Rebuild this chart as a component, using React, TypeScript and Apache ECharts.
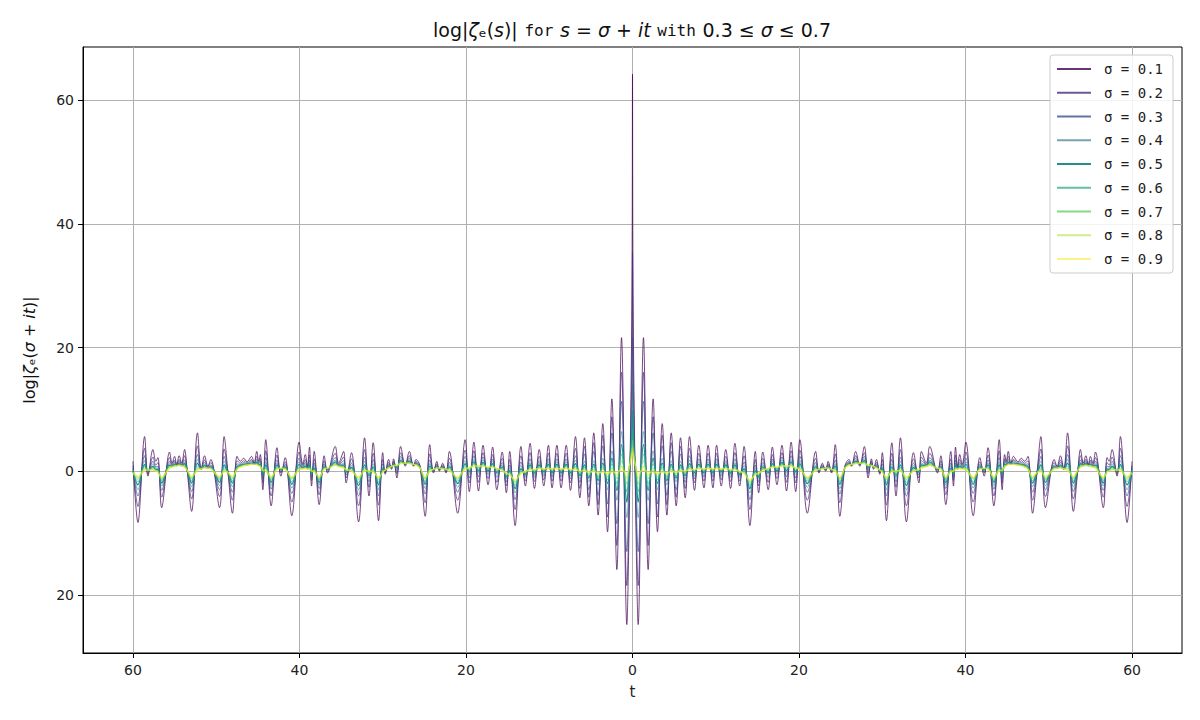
import React, { useEffect, useRef } from "react";
import * as echarts from "echarts";

// t values for the left half (the curves are symmetric about t = 0)
const T = [
  -60.0, -59.4, -58.6, -58.2, -57.6, -57.25, -57.0, -56.55, -55.6, -55.3,
  -55.0, -54.75, -54.45, -54.15, -53.8, -53.5, -52.95, -52.25, -51.8, -51.4,
  -51.0, -50.65, -49.6, -49.05, -48.6, -48.05, -47.5, -47.1, -46.7, -46.3,
  -45.75, -45.45, -45.13, -44.9, -44.7, -44.4, -44.05, -43.4, -42.7, -42.24,
  -41.72, -40.92, -40.04, -39.6, -39.3, -39.05, -38.8, -38.55, -38.23, -37.63,
  -37.03, -36.63, -35.7, -35.3, -34.7, -34.4, -33.75, -32.9, -32.18, -31.65,
  -31.15, -30.5, -30.0, -29.7, -29.3, -28.95, -28.7, -28.3, -27.85, -27.3,
  -26.8, -26.3, -26.0, -25.75, -25.5, -24.9, -24.35, -23.9, -23.5, -23.2,
  -22.8, -22.4, -22.0, -21.0, -20.1, -19.6, -19.05, -18.5, -17.95, -17.35,
  -16.8, -16.3, -15.65, -15.15, -14.75, -14.1, -13.4, -12.87, -12.3, -11.78,
  -11.2, -10.66, -10.1, -9.66, -9.08, -8.58, -7.96, -7.45, -6.85, -6.33,
  -5.77, -5.25, -4.65, -4.13, -3.57, -3.0, -2.48, -1.88, -1.32, -0.68,
  -0.4, -0.12, -0.04, 0,
];

const S1 = [
  1.6, -8.3, 5.6, -0.8, 3.5, 1.6, 2.2, -5.9, 3.1, 1.3,
  2.4, 1.1, 2.5, 1.3, 3.5, 0.3, -6.5, 6.2, 0.3, 2.5,
  0.8, 1.9, -5.9, 5.6, 0.0, -6.8, 2.4, 1.6, 2.1, 1.5,
  2.4, 1.3, 3.2, 1.6, 2.7, -3.0, 5.1, -5.6, 3.8, -0.8,
  2.2, -7.2, 4.7, 1.1, 2.7, 0.8, 3.9, -2.4, 3.2, -5.4,
  2.5, -0.3, 4.0, 1.3, 3.2, -1.9, 3.0, -8.2, 5.4, -4.0,
  4.6, -8.0, 3.0, -0.5, 1.9, 0.3, 2.0, -1.1, 4.0, 0.8,
  3.2, 0.8, 1.9, 1.6, 0.8, -7.3, 4.3, -0.3, 1.6, 0.0,
  1.3, -0.3, 3.2, -6.8, 5.1, -3.3, 4.7, -3.2, 4.2, -2.2,
  3.9, -3.0, 3.1, -3.5, 3.2, -8.8, 4.0, -2.4, 4.5, -2.8,
  3.5, -2.4, 4.2, -2.7, 4.2, -2.7, 4.2, -3.1, 5.6, -4.3,
  5.4, -5.6, 6.2, -7.1, 7.7, -9.8, 11.7, -15.9, 21.6, -24.8,
  -8, 20, 38, 64.2,
];
const S2 = [
  0.9, -5.7, 3.7, -0.5, 2.3, 1.0, 1.4, -4.2, 2.2, 1.1,
  1.8, 1.0, 1.9, 1.1, 2.5, 0.3, -4.5, 4.1, 0.3, 1.8,
  0.7, 1.4, -4.1, 3.6, -0.1, -4.7, 1.7, 1.3, 1.7, 1.3,
  1.9, 1.2, 2.4, 1.4, 2.0, -1.9, 3.3, -4.0, 2.6, -0.3,
  1.5, -5.0, 3.1, 0.9, 1.9, 0.6, 2.6, -1.5, 2.0, -3.8,
  1.7, 0.0, 2.9, 1.1, 2.3, -1.1, 2.0, -5.6, 3.5, -2.6,
  2.9, -5.5, 1.9, -0.3, 1.4, 0.5, 1.6, -0.4, 3.0, 1.0,
  2.5, 0.9, 1.6, 1.3, 0.7, -5.1, 2.8, -0.1, 1.2, 0.2,
  1.0, -0.1, 2.1, -4.7, 3.4, -1.9, 3.3, -1.8, 3.0, -1.2,
  2.7, -1.8, 2.1, -2.4, 1.9, -6.2, 2.5, -1.6, 3.0, -1.7,
  2.4, -1.4, 2.9, -1.6, 2.9, -1.6, 2.9, -1.9, 3.7, -2.8,
  4.0, -4.2, 4.6, -5.4, 5.8, -7.4, 8.8, -12.0, 16.0, -18.5,
  -5, 13, 26, 35.4,
];
const S3 = [
  0.5, -4.0, 2.5, -0.2, 1.6, 0.7, 0.8, -3.1, 1.6, 1.0,
  1.5, 1.0, 1.6, 1.0, 1.8, 0.2, -3.3, 2.7, 0.4, 1.4,
  0.6, 1.0, -3.0, 2.4, -0.1, -3.4, 1.2, 1.1, 1.4, 1.2,
  1.7, 1.2, 1.9, 1.2, 1.6, -1.2, 2.2, -2.9, 1.8, -0.1,
  1.1, -3.6, 2.1, 0.7, 1.4, 0.5, 1.8, -1.0, 1.3, -2.8,
  1.2, 0.2, 2.2, 1.0, 1.7, -0.6, 1.3, -4.0, 2.3, -1.7,
  1.9, -4.0, 1.2, -0.1, 1.1, 0.6, 1.4, 0.1, 2.4, 1.1,
  2.1, 1.0, 1.4, 1.1, 0.6, -3.7, 1.8, 0.0, 1.0, 0.3,
  0.8, 0.0, 1.4, -3.4, 2.4, -1.1, 2.5, -0.9, 2.3, -0.5,
  2.0, -1.0, 1.4, -1.7, 1.0, -4.6, 1.5, -1.0, 2.0, -1.0,
  1.7, -0.8, 2.0, -0.9, 2.0, -0.9, 2.0, -1.2, 2.5, -1.8,
  2.8, -3.0, 3.2, -3.9, 4.1, -5.3, 6.2, -8.5, 11.3, -13.0,
  -2.8, 9, 16.5, 21.7,
];
const S4 = [
  0.3, -3.0, 1.7, -0.1, 1.2, 0.5, 0.5, -2.4, 1.3, 0.9,
  1.3, 0.9, 1.4, 1.0, 1.4, 0.2, -2.5, 1.9, 0.4, 1.1,
  0.6, 0.8, -2.3, 1.6, -0.1, -2.5, 0.9, 1.0, 1.2, 1.1,
  1.5, 1.2, 1.6, 1.1, 1.3, -0.7, 1.5, -2.3, 1.3, 0.1,
  0.9, -2.7, 1.5, 0.6, 1.1, 0.5, 1.3, -0.6, 0.9, -2.2,
  0.9, 0.3, 1.8, 0.9, 1.3, -0.3, 0.9, -3.0, 1.6, -1.1,
  1.2, -3.0, 0.7, 0.0, 0.9, 0.7, 1.2, 0.4, 2.0, 1.2,
  1.8, 1.0, 1.3, 1.0, 0.6, -2.8, 1.2, 0.1, 0.8, 0.4,
  0.7, 0.1, 1.0, -2.6, 1.7, -0.5, 1.9, -0.3, 1.8, -0.1,
  1.6, -0.5, 1.0, -1.2, 0.5, -3.5, 0.9, -0.7, 1.4, -0.6,
  1.3, -0.4, 1.5, -0.5, 1.5, -0.5, 1.5, -0.7, 1.8, -1.2,
  1.6, -1.7, 1.7, -2.2, 2.1, -3.0, 3.3, -4.7, 6.4, -7.5,
  -1.3, 6, 11, 14.0,
];
const S5 = [
  0.1, -2.2, 1.1, 0.0, 0.8, 0.3, 0.3, -1.9, 1.0, 0.8,
  1.1, 0.9, 1.2, 0.9, 1.2, 0.2, -1.9, 1.3, 0.4, 0.9,
  0.6, 0.7, -1.8, 1.0, -0.2, -1.9, 0.7, 0.9, 1.1, 1.1,
  1.3, 1.1, 1.4, 1.0, 1.1, -0.4, 1.0, -1.8, 1.0, 0.3,
  0.7, -2.1, 1.1, 0.5, 0.8, 0.4, 1.0, -0.4, 0.5, -1.8,
  0.7, 0.3, 1.5, 0.9, 1.0, -0.1, 0.6, -2.3, 1.0, -0.7,
  0.7, -2.2, 0.4, 0.1, 0.8, 0.7, 1.1, 0.6, 1.7, 1.2,
  1.6, 1.0, 1.2, 1.0, 0.6, -2.1, 0.8, 0.2, 0.7, 0.4,
  0.6, 0.2, 0.7, -2.0, 1.2, -0.1, 1.5, 0.1, 1.4, 0.1,
  1.2, -0.2, 0.7, -0.9, 0.1, -2.8, 0.4, -0.5, 1.0, -0.3,
  1.0, -0.1, 1.1, -0.2, 1.1, -0.2, 1.1, -0.3, 1.2, -0.7,
  1.0, -1.1, 1.1, -1.5, 1.3, -2.0, 2.1, -3.1, 4.3, -5.0,
  -0.2, 4.5, 8, 9.8,
];
const S6 = [
  -0.1, -1.7, 0.8, 0.1, 0.6, 0.2, 0.1, -1.5, 0.8, 0.8,
  1.0, 0.9, 1.1, 0.9, 0.9, 0.2, -1.5, 0.8, 0.4, 0.7,
  0.5, 0.6, -1.4, 0.6, -0.2, -1.5, 0.6, 0.8, 1.0, 1.1,
  1.3, 1.1, 1.3, 1.0, 0.9, -0.2, 0.6, -1.5, 0.7, 0.3,
  0.5, -1.7, 0.7, 0.5, 0.7, 0.4, 0.7, -0.2, 0.3, -1.4,
  0.6, 0.4, 1.3, 0.9, 0.8, 0.0, 0.4, -1.8, 0.6, -0.4,
  0.4, -1.8, 0.2, 0.1, 0.7, 0.7, 1.0, 0.7, 1.5, 1.2,
  1.4, 1.1, 1.1, 0.9, 0.5, -1.7, 0.5, 0.2, 0.6, 0.4,
  0.5, 0.2, 0.5, -1.6, 0.9, 0.1, 1.3, 0.4, 1.2, 0.4,
  1.0, 0.1, 0.5, -0.7, -0.1, -2.3, 0.1, -0.3, 0.7, -0.1,
  0.8, 0.1, 0.9, 0.0, 0.9, 0.0, 0.9, -0.1, 0.8, -0.4,
  0.6, -0.8, 0.7, -1.0, 0.7, -1.4, 1.2, -2.0, 2.8, -3.3,
  0.5, 3.8, 5.8, 6.8,
];
const S7 = [
  -0.2, -1.3, 0.5, 0.1, 0.4, 0.1, 0.0, -1.3, 0.7, 0.7,
  0.9, 0.9, 1.0, 0.9, 0.8, 0.2, -1.2, 0.5, 0.4, 0.6,
  0.5, 0.5, -1.2, 0.3, -0.2, -1.2, 0.4, 0.8, 1.0, 1.0,
  1.2, 1.1, 1.2, 1.0, 0.8, 0.0, 0.4, -1.2, 0.5, 0.4,
  0.4, -1.3, 0.5, 0.4, 0.6, 0.4, 0.6, -0.1, 0.1, -1.2,
  0.5, 0.4, 1.1, 0.8, 0.7, 0.1, 0.2, -1.4, 0.4, -0.2,
  0.1, -1.4, 0.0, 0.2, 0.6, 0.8, 1.0, 0.9, 1.4, 1.3,
  1.3, 1.1, 1.1, 0.9, 0.5, -1.3, 0.3, 0.3, 0.6, 0.5,
  0.5, 0.3, 0.3, -1.3, 0.6, 0.3, 1.1, 0.6, 1.0, 0.5,
  0.8, 0.3, 0.3, -0.5, -0.3, -1.9, -0.1, -0.2, 0.5, 0.1,
  0.6, 0.2, 0.7, 0.2, 0.7, 0.2, 0.7, 0.1, 0.6, -0.2,
  0.4, -0.5, 0.3, -0.7, 0.4, -0.9, 0.6, -1.2, 1.7, -2.1,
  0.7, 3.2, 4.5, 5.0,
];
const S8 = [
  -0.2, -1.0, 0.3, 0.2, 0.3, 0.0, -0.1, -1.1, 0.6, 0.7,
  0.8, 0.9, 1.0, 0.9, 0.7, 0.2, -1.0, 0.3, 0.4, 0.6,
  0.5, 0.4, -1.0, 0.1, -0.2, -1.0, 0.4, 0.7, 0.9, 1.0,
  1.1, 1.1, 1.1, 0.9, 0.8, 0.1, 0.2, -1.0, 0.4, 0.5,
  0.4, -1.1, 0.3, 0.4, 0.5, 0.4, 0.4, 0.0, 0.0, -1.0,
  0.4, 0.5, 1.0, 0.8, 0.6, 0.2, 0.1, -1.1, 0.2, 0.0,
  0.0, -1.1, -0.1, 0.2, 0.5, 0.8, 0.9, 0.9, 1.3, 1.3,
  1.3, 1.1, 1.0, 0.8, 0.5, -1.1, 0.1, 0.3, 0.5, 0.5,
  0.4, 0.3, 0.2, -1.1, 0.4, 0.5, 0.9, 0.8, 0.9, 0.6,
  0.7, 0.4, 0.2, -0.4, -0.5, -1.6, -0.3, -0.1, 0.3, 0.2,
  0.5, 0.3, 0.5, 0.3, 0.5, 0.3, 0.5, 0.2, 0.4, 0.0,
  0.2, -0.3, 0.1, -0.4, 0.0, -0.5, 0.2, -0.6, 0.8, -1.1,
  0.7, 2.7, 3.5, 3.8,
];
const S9 = [
  -0.3, -0.8, 0.1, 0.2, 0.2, 0.0, -0.2, -0.9, 0.5, 0.7,
  0.8, 0.9, 0.9, 0.9, 0.6, 0.2, -0.8, 0.1, 0.4, 0.5,
  0.5, 0.4, -0.8, -0.1, -0.2, -0.8, 0.3, 0.7, 0.9, 1.0,
  1.1, 1.1, 1.0, 0.9, 0.7, 0.2, 0.0, -0.9, 0.3, 0.5,
  0.3, -0.9, 0.2, 0.4, 0.4, 0.4, 0.3, 0.1, -0.1, -0.9,
  0.3, 0.5, 0.9, 0.8, 0.5, 0.3, 0.0, -0.9, 0.0, 0.1,
  -0.2, -0.9, -0.2, 0.2, 0.5, 0.8, 0.9, 1.0, 1.2, 1.3,
  1.2, 1.1, 1.0, 0.8, 0.5, -0.9, 0.0, 0.3, 0.5, 0.5,
  0.4, 0.3, 0.1, -0.9, 0.3, 0.6, 0.8, 0.9, 0.8, 0.7,
  0.6, 0.5, 0.1, -0.3, -0.6, -1.4, -0.4, 0.0, 0.2, 0.3,
  0.4, 0.4, 0.4, 0.4, 0.4, 0.4, 0.4, 0.3, 0.2, 0.1,
  0.0, -0.1, -0.1, -0.2, -0.2, -0.2, -0.2, -0.1, 0.2, -0.4,
  0.5, 2.3, 2.9, 3.1,
];

const SIGMAS = ["0.1", "0.2", "0.3", "0.4", "0.5", "0.6", "0.7", "0.8", "0.9"];
const VALUES = [S1, S2, S3, S4, S5, S6, S7, S8, S9];
const X_TICKS = [-60, -40, -20, 0, 20, 40, 60];
const Y_TICKS = [-20, 0, 20, 40, 60];

const COLORS = ["#440154", "#472d7b", "#3b528b", "#2c728e", "#21918c", "#28ae80", "#5ec962", "#addc30", "#fde725"];
const WIDTHS = [0.9, 0.9, 0.9, 0.9, 1.4, 0.9, 0.9, 1.4, 1.4];
const OPACITY = [0.8, 0.8, 0.8, 0.65, 1, 0.75, 0.75, 0.55, 0.55];

function fullCurve(vals: number[]): number[][] {
  const pts: number[][] = [];
  for (let i = 0; i < T.length; i++) pts.push([T[i], vals[i]]);
  for (let i = T.length - 2; i >= 0; i--) pts.push([-T[i], vals[i]]);
  return pts;
}

const FONT = "DejaVu Sans";

export default function App() {
  const ref = useRef<HTMLDivElement>(null);
  useEffect(() => {
    if (!ref.current) return;
    const chart = echarts.init(ref.current, undefined, { renderer: "svg" });
    const names = SIGMAS.map((s) => `σ = ${s}`);
    const mathRich = {
      a: { fontFamily: FONT, fontSize: 19, color: "#111", fill: "#111" },
      i: { fontFamily: FONT, fontSize: 19, fontStyle: "italic", color: "#111", fill: "#111" },
      m: { fontFamily: "DejaVu Sans Mono", fontSize: 16, color: "#111", fill: "#111" },
    };
    const yRich = {
      a: { fontFamily: FONT, fontSize: 16, color: "#111" },
      i: { fontFamily: FONT, fontSize: 16, fontStyle: "italic", color: "#111" },
    };
    chart.setOption({
      animation: false,
      backgroundColor: "#ffffff",
      grid: {
        left: 83,
        right: 18,
        top: 47,
        bottom: 67,
        show: true,
        borderColor: "#000",
        borderWidth: 1,
        backgroundColor: "transparent",
      },
      graphic: [
        {
          type: "text",
          x: 632,
          y: 30,
          z: 100,
          style: {
            text:
              "{a|log|}{i|ζ}{a|ₑ(}{i|s}{a|)|}  {m|for}  {i|s}{a| = }{i|σ}{a| + }{i|it}  {m|with}  {a|0.3 ≤ }{i|σ}{a| ≤ 0.7}",
            align: "center",
            verticalAlign: "middle",
            rich: mathRich,
          },
        },
      ],
      xAxis: {
        type: "value",
        min: -66,
        max: 66,
        name: "t",
        nameLocation: "middle",
        nameGap: 31,
        nameTextStyle: { fontFamily: FONT, fontSize: 15, color: "#222" },
        axisLine: { show: true, onZero: false, lineStyle: { color: "#000", width: 1 } },
        axisTick: { show: true, length: 5, customValues: X_TICKS, lineStyle: { color: "#000" } },
        axisLabel: {
          customValues: X_TICKS,
          formatter: (v: number) => String(Math.abs(v)),
          fontFamily: FONT,
          fontSize: 14,
          color: "#222",
          margin: 10,
        },
        splitLine: { show: true, lineStyle: { color: "#b0b0b0", width: 1 } },
      },
      yAxis: {
        type: "value",
        min: -29.4,
        max: 68.6,
        name: "{a|log|}{i|ζ}{a|ₑ(}{i|σ}{a| + }{i|it}{a|)|}",
        nameLocation: "middle",
        nameGap: 46,
        nameRotate: 90,
        nameTextStyle: { rich: yRich },
        axisLine: { show: true, onZero: false, lineStyle: { color: "#000", width: 1 } },
        axisTick: { show: true, length: 5, customValues: Y_TICKS, lineStyle: { color: "#000" } },
        axisLabel: {
          customValues: Y_TICKS,
          formatter: (v: number) => String(Math.abs(v)),
          fontFamily: FONT,
          fontSize: 14,
          color: "#222",
          margin: 9,
        },
        splitLine: { show: true, lineStyle: { color: "#b0b0b0", width: 1 } },
      },
      legend: {
        orient: "vertical",
        right: 27,
        top: 55,
        itemWidth: 34,
        itemHeight: 14,
        itemGap: 9.75,
        padding: [7, 10, 7, 6],
        backgroundColor: "rgba(255,255,255,0.85)",
        borderColor: "#cccccc",
        borderWidth: 1,
        borderRadius: 3,
        itemStyle: { opacity: 0, borderWidth: 0 },
        textStyle: { fontFamily: "DejaVu Sans Mono", fontSize: 14, color: "#222", padding: [0, 0, 0, 8] },
        data: names,
      },
      series: VALUES.map((vals, k) => ({
        type: "line",
        name: names[k],
        data: fullCurve(vals),
        symbol: "none",
        smooth: 0.35,
        silent: true,
        lineStyle: { color: COLORS[k], width: WIDTHS[k], opacity: OPACITY[k] },
        itemStyle: { color: COLORS[k], opacity: OPACITY[k] },
        emphasis: { disabled: true },
      })),
    });
    return () => chart.dispose();
  }, []);
  return (
    <div
      ref={ref}
      style={{ position: "absolute", left: 0, top: 0, width: 1200, height: 720, background: "#fff" }}
    />
  );
}
